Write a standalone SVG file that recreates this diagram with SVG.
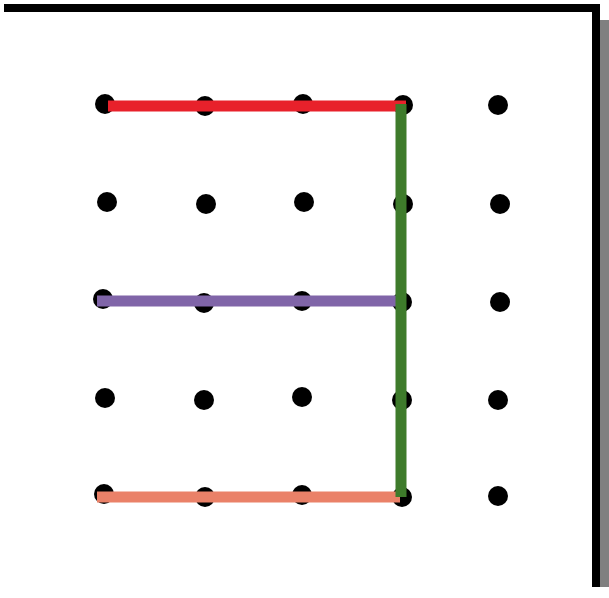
<svg xmlns="http://www.w3.org/2000/svg" width="609" height="598" viewBox="0 0 609 598">
<style>
.dot{fill:#000}
.seg{fill:none;stroke-width:11;stroke-linecap:butt}
</style>
<rect width="609" height="598" fill="#fff"/>
<g id="frame">
<rect x="600" y="20" width="9" height="567" fill="#808080"/>
<path d="M4 8 H596 V587" fill="none" stroke="#000" stroke-width="8"/>
</g>
<g id="dots">
<circle class="dot" cx="105" cy="104" r="10"/><circle class="dot" cx="205" cy="106" r="10"/><circle class="dot" cx="303" cy="104" r="10"/><circle class="dot" cx="403" cy="105" r="10"/><circle class="dot" cx="498" cy="105" r="10"/>
<circle class="dot" cx="107" cy="202" r="10"/><circle class="dot" cx="206" cy="204" r="10"/><circle class="dot" cx="304" cy="202" r="10"/><circle class="dot" cx="403" cy="204" r="10"/><circle class="dot" cx="500" cy="204" r="10"/>
<circle class="dot" cx="103" cy="299" r="10"/><circle class="dot" cx="204" cy="303" r="10"/><circle class="dot" cx="302" cy="301" r="10"/><circle class="dot" cx="402" cy="302" r="10"/><circle class="dot" cx="500" cy="302" r="10"/>
<circle class="dot" cx="105" cy="398" r="10"/><circle class="dot" cx="204" cy="400" r="10"/><circle class="dot" cx="302" cy="397" r="10"/><circle class="dot" cx="402" cy="400" r="10"/><circle class="dot" cx="498" cy="400" r="10"/>
<circle class="dot" cx="104" cy="494" r="10"/><circle class="dot" cx="205" cy="497" r="10"/><circle class="dot" cx="302" cy="495" r="10"/><circle class="dot" cx="402" cy="497" r="10"/><circle class="dot" cx="498" cy="496" r="10"/>
</g>
<g id="connectors">
<line class="seg" x1="108" y1="106" x2="406" y2="106" stroke="#e8212b"/>
<line class="seg" x1="97" y1="301" x2="400" y2="301" stroke="#8065a8"/>
<line class="seg" x1="97" y1="497" x2="400" y2="497" stroke="#ea8168"/>
<line class="seg" x1="401" y1="104" x2="401" y2="497" stroke="#3e7b2b"/>
</g>
</svg>
